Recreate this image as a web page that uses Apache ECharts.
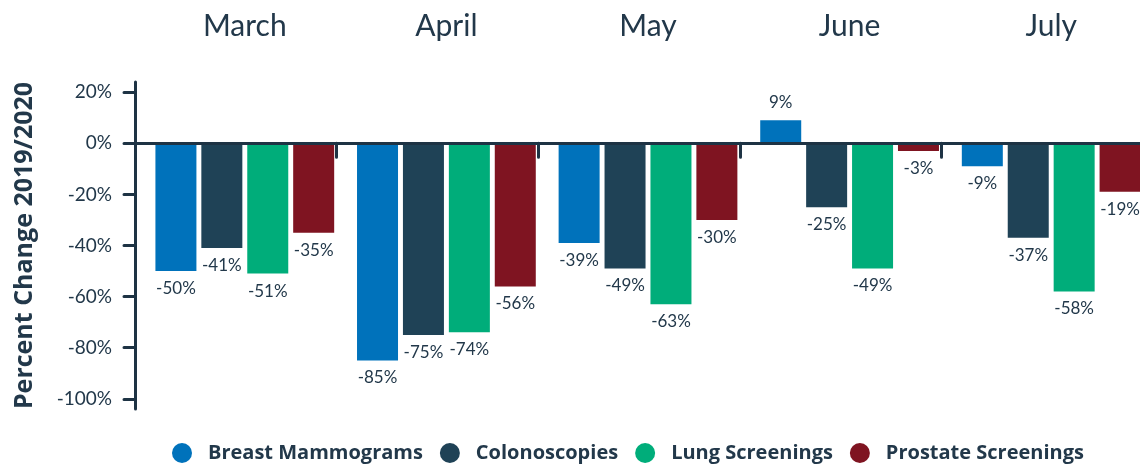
<!DOCTYPE html>
<html>
<head>
<meta charset="utf-8">
<script src="https://cdn.jsdelivr.net/npm/echarts@6/dist/echarts.min.js"></script>
<style>
html,body{margin:0;padding:0;background:#fff;}
#chart{width:1140px;height:465px;}
</style>
</head>
<body>
<div id="chart"></div>
<script>
const months = ['March', 'April', 'May', 'June', 'July'];
const seriesNames = ['Breast Mammograms', 'Colonoscopies', 'Lung Screenings', 'Prostate Screenings'];
const breastMammograms = [-50, -85, -39, 9, -9];
const colonoscopies = [-41, -75, -49, -25, -37];
const lungScreenings = [-51, -74, -63, -49, -58];
const prostateScreenings = [-35, -56, -30, -3, -19];
const yTickValues = [-100, -80, -60, -40, -20, 0, 20];
const yAxisTitle = 'Percent Change 2019/2020';

const colors = ['#0072BB', '#1F4256', '#00AD7A', '#7F1421'];
const textColor = '#22384A';
const axisColor = '#1E3344';
const font = 'Lato';
const boldFont = 'Open Sans';
const yMin = -104, yMax = 24;

const allValues = [breastMammograms, colonoscopies, lungScreenings, prostateScreenings];

const chart = echarts.init(document.getElementById('chart'), null, {renderer: 'canvas'});
chart.setOption({
  animation: false,
  textStyle: {fontFamily: font},
  color: colors,
  grid: [
    {left: 144, width: 1008, top: 82, height: 327, outerBoundsMode: 'none', containLabel: false},
    {left: 135, width: 1008, top: 82, height: 327, outerBoundsMode: 'none', containLabel: false}
  ],
  legend: {
    data: seriesNames,
    left: 172,
    top: 443,
    padding: 0,
    icon: 'circle',
    itemWidth: 20,
    itemHeight: 20,
    itemGap: 17,
    textStyle: {fontFamily: boldFont, fontSize: 20, fontWeight: 'bold', color: textColor, padding: [0, 0, 0, 11]}
  },
  xAxis: [
    {
      gridIndex: 0, type: 'category', data: months, position: 'top',
      axisLine: {show: false}, axisTick: {show: false},
      axisLabel: {fontSize: 30, color: textColor, margin: 41, fontFamily: font}
    },
    {
      gridIndex: 1, type: 'category', data: months, position: 'bottom', z: 10,
      axisLine: {show: true, onZero: true, lineStyle: {color: axisColor, width: 3}},
      axisTick: {show: true, interval: 0, length: 14, lineStyle: {color: axisColor, width: 3, cap: 'round'}},
      axisLabel: {show: false}
    }
  ],
  yAxis: [
    {gridIndex: 0, type: 'value', min: yMin, max: yMax, show: false, splitLine: {show: false}},
    {
      gridIndex: 1, type: 'value', min: yMin, max: yMax, z: 10,
      name: yAxisTitle, nameLocation: 'middle', nameRotate: 90, nameGap: 98,
      nameTextStyle: {fontFamily: boldFont, fontSize: 25, fontWeight: 'bold', color: textColor},
      axisLine: {show: true, lineStyle: {color: axisColor, width: 3, cap: 'round'}},
      axisTick: {show: true, length: 11, customValues: yTickValues, lineStyle: {color: axisColor, width: 3, cap: 'round'}},
      axisLabel: {customValues: yTickValues, formatter: '{value}%', fontSize: 19, color: textColor, margin: 23, fontFamily: font},
      splitLine: {show: false}
    }
  ],
  series: seriesNames.map((name, i) => ({
    name: name,
    type: 'bar',
    xAxisIndex: 0,
    yAxisIndex: 0,
    data: allValues[i],
    barWidth: 41,
    barGap: '12%',
    itemStyle: {color: colors[i]},
    label: {
      show: true,
      position: 'outside',
      distance: 9,
      formatter: p => p.value + '%',
      fontSize: 17,
      color: textColor,
      fontFamily: font
    }
  }))
});
</script>
</body>
</html>
